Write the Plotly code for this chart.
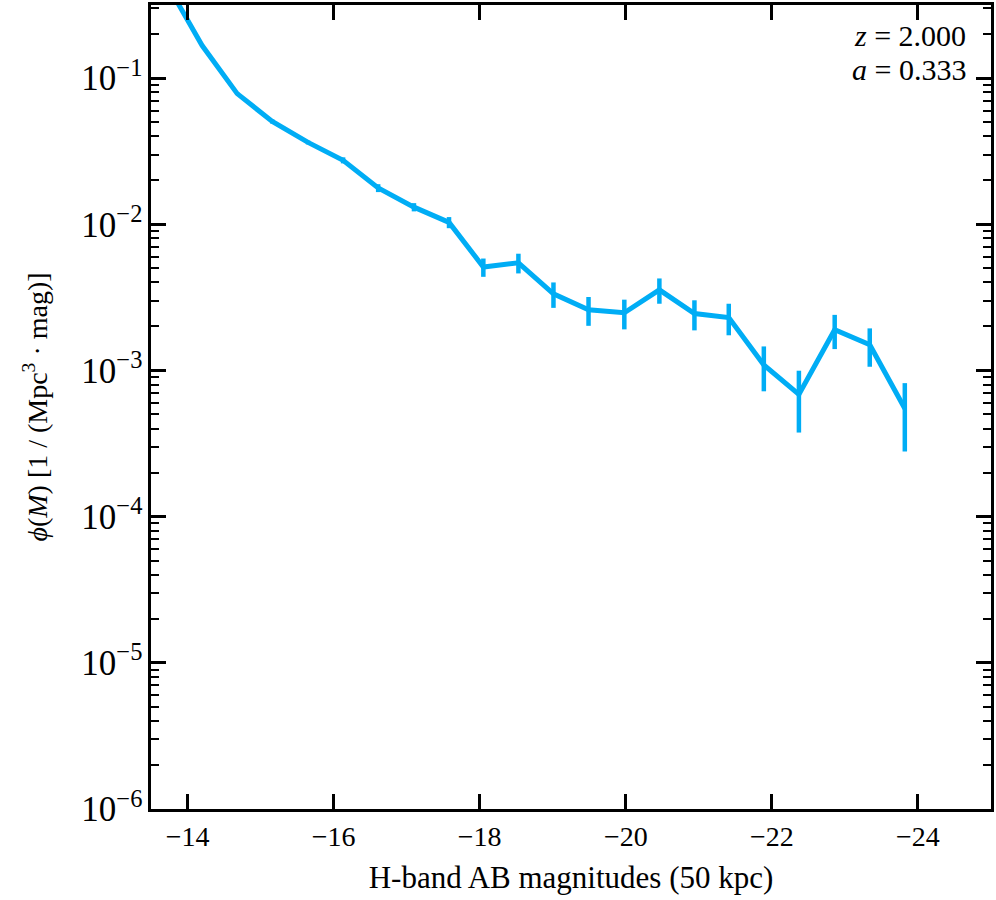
import plotly.graph_objects as go

# H-band AB magnitude bins and luminosity function values
magnitudes = [-13.73, -14.20, -14.68, -15.16, -15.65, -16.13, -16.61, -17.10,
              -17.58, -18.05, -18.53, -19.01, -19.49, -19.98, -20.46, -20.94,
              -21.41, -21.89, -22.37, -22.86, -23.34, -23.82]
phi = [0.43, 0.167, 0.0783, 0.0505, 0.0363, 0.0274, 0.0177, 0.0131,
       0.0103, 0.0051, 0.00545, 0.00334, 0.0026, 0.00248, 0.00356, 0.00245,
       0.0023, 0.00109, 0.000686, 0.0019, 0.0015, 0.000549]
phi_err = [0.0, 0.0, 0.0015, 0.0016, 0.0011, 0.0013, 0.0011, 0.00085,
           0.0009, 0.00073, 0.00084, 0.00066, 0.00058, 0.00057, 0.0007, 0.00057,
           0.00056, 0.00037, 0.00031, 0.0005, 0.00044, 0.00027]
x_ticks = [-14, -16, -18, -20, -22, -24]
x_labels = ["−14", "−16", "−18", "−20", "−22", "−24"]

colour = "#00adf5"
serif = "Liberation Serif, Times New Roman, serif"

fig = go.Figure()
fig.add_trace(go.Scatter(
    x=magnitudes, y=phi,
    mode="lines",
    line=dict(color=colour, width=5),
    error_y=dict(type="data", array=phi_err, visible=True,
                 color=colour, thickness=4.5, width=0),
    showlegend=False,
))

fig.update_xaxes(
    range=[-13.5, -25], tickmode="array", tickvals=x_ticks, ticktext=x_labels,
    showline=True, linecolor="black", linewidth=3, mirror="allticks",
    ticks="inside", ticklen=15, tickwidth=3, tickcolor="black",
    showgrid=False, zeroline=False,
    tickfont=dict(family=serif, size=28, color="black"),
    title=dict(text="H-band AB magnitudes (50 kpc)",
               font=dict(family=serif, size=31, color="black"), standoff=16),
)
fig.update_yaxes(
    type="log", range=[-6, -0.5], dtick=1, exponentformat="power",
    showline=True, linecolor="black", linewidth=3, mirror="allticks",
    ticks="inside", ticklen=15, tickwidth=3, tickcolor="black",
    minor=dict(ticks="inside", ticklen=8, tickwidth=2, tickcolor="black", dtick="D1"),
    showgrid=False, zeroline=False,
    tickfont=dict(family=serif, size=28, color="black"),
    title=dict(text="<i>ϕ</i>(<i>M</i>) [1 / (Mpc<sup>3</sup> · mag)]",
               font=dict(family=serif, size=28, color="black"), standoff=26),
)

fig.add_annotation(
    x=0.973, y=0.962, xref="paper", yref="paper",
    xanchor="right", yanchor="middle", showarrow=False,
    text="<i>z</i> = 2.000",
    font=dict(family=serif, size=30, color="black"),
)
fig.add_annotation(
    x=0.973, y=0.920, xref="paper", yref="paper",
    xanchor="right", yanchor="middle", showarrow=False,
    text="<i>a</i> = 0.333",
    font=dict(family=serif, size=30, color="black"),
)

fig.update_layout(
    width=996, height=900,
    margin=dict(l=151, r=3, t=2, b=91),
    plot_bgcolor="white", paper_bgcolor="white",
)

fig.write_html("out.html", config={"displayModeBar": False},
               post_script="document.body.style.margin='0';")
